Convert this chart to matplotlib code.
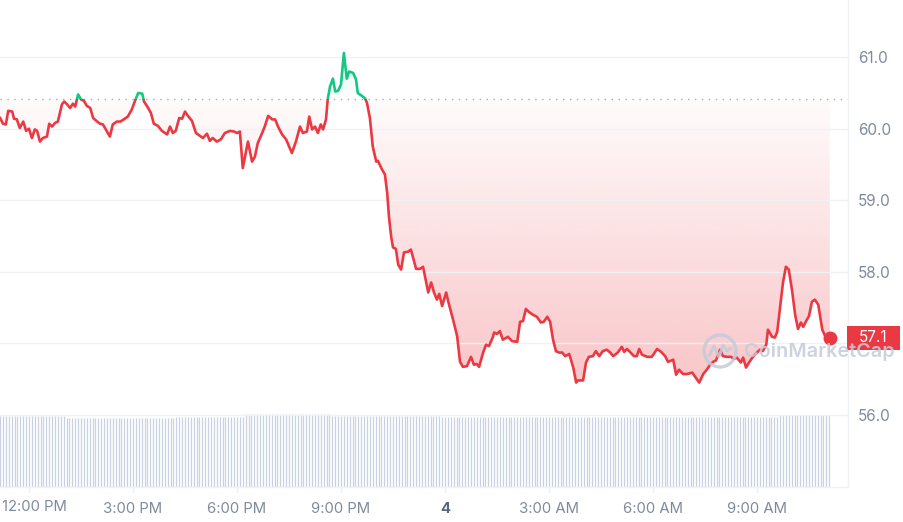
import numpy as np
import matplotlib.pyplot as plt
from matplotlib.colors import to_rgb
from matplotlib.patches import Polygon, Rectangle, Circle

plt.rcParams["font.family"] = ["Inter", "DejaVu Sans"]

RED = "#ea3943"
GREEN = "#16c784"
GRID = "#eff2f5"
LABEL = "#808a9d"
VOL = "#c9d2e3"

# ── Data (minutes after 12:00 PM, price in USD) ──────────────────────────────
minutes = [
    -50, -45, -40, -36, -29, -26, -21, -16, -10, -5, 0, 5, 10, 14, 19, 24, 31, 35,
    40, 45, 50, 57, 61, 66, 71, 76, 80, 85, 90, 95, 100, 106, 111, 118, 123, 128,
    135, 140, 145, 152, 158, 164, 171, 178, 183, 189,
    196, 199, 204, 211, 216, 223, 230, 239, 244, 249, 254, 260, 265, 270, 275, 282,
    289, 296, 301, 308, 313, 318, 325, 332, 339, 348, 355, 360, 365, 370, 379, 386,
    391, 396, 403, 408,
    414, 421, 426, 431, 438, 445, 455, 462, 469, 474, 481, 485, 490, 495, 500, 505,
    509, 514, 517, 521, 526, 530, 535, 540, 545, 550, 554, 561, 566, 569, 576, 582,
    585, 590, 595, 601, 604, 611, 616,
    620, 623, 627, 630, 635, 639, 644, 649, 656, 661, 670, 677, 682, 691, 696, 701,
    706, 710, 715, 722, 727, 734, 741, 746, 751, 758, 765, 770, 775, 779, 786, 791,
    796, 803,
    805, 810, 815, 820, 829, 836, 845, 850, 855, 860, 865, 872, 879, 886, 891, 897,
    902, 907, 912, 917, 923, 928, 935, 942, 947, 950, 959, 964, 969, 976, 981, 987,
    993, 1000, 1006, 1011, 1019, 1026, 1030, 1035, 1040, 1047, 1052, 1056, 1061,
    1070, 1078, 1087, 1094, 1101, 1106,
    1115, 1120, 1125, 1132, 1139, 1148, 1153, 1160, 1167, 1173, 1179, 1184, 1189,
    1193, 1196, 1201, 1208, 1215, 1220, 1225, 1232, 1236, 1241, 1246, 1253, 1260,
    1265, 1270, 1276, 1279, 1286, 1291, 1295, 1302, 1305, 1310, 1315, 1321, 1326,
    1331, 1336, 1340, 1345, 1350, 1355, 1360, 1366, 1373, 1378, 1386,
]
price = [
    60.15, 60.07, 60.06, 60.25, 60.24, 60.14, 60.13, 60.01, 60.10, 59.97, 60.00,
    59.87, 59.99, 59.97, 59.82, 59.87, 59.89, 60.07, 60.03, 60.08, 60.10, 60.34,
    60.38, 60.34, 60.29, 60.35, 60.31, 60.48, 60.41, 60.39, 60.32, 60.29, 60.15,
    60.10, 60.07, 60.06, 59.96, 59.89, 60.06, 60.10, 60.10, 60.13, 60.17, 60.27,
    60.38, 60.50,
    60.49, 60.38, 60.32, 60.22, 60.07, 60.04, 59.97, 59.92, 60.03, 59.94, 59.97,
    60.15, 60.14, 60.24, 60.18, 60.11, 59.94, 59.90, 59.87, 59.93, 59.83, 59.87,
    59.82, 59.85, 59.94, 59.97, 59.96, 59.94, 59.96, 59.45, 59.82, 59.54, 59.61,
    59.80, 59.93, 60.03,
    60.18, 60.13, 60.13, 60.03, 59.92, 59.85, 59.66, 59.82, 60.03, 59.94, 59.96,
    60.17, 59.99, 60.03, 59.94, 60.06, 59.99, 60.13, 60.41, 60.59, 60.70, 60.52,
    60.53, 60.62, 61.06, 60.70, 60.80, 60.78, 60.69, 60.50, 60.46, 60.42, 60.36,
    60.15, 59.75, 59.54, 59.55, 59.43, 59.36,
    59.10, 58.77, 58.48, 58.34, 58.32, 58.10, 58.03, 58.27, 58.28, 58.31, 58.04,
    58.04, 58.07, 57.71, 57.85, 57.71, 57.61, 57.69, 57.52, 57.71, 57.54, 57.33,
    57.10, 56.74, 56.67, 56.68, 56.81, 56.70, 56.71, 56.67, 56.87, 56.98, 56.96,
    57.09,
    57.15, 57.13, 57.17, 57.05, 57.09, 57.03, 57.02, 57.30, 57.31, 57.48, 57.44,
    57.40, 57.37, 57.29, 57.30, 57.37, 57.30, 57.05, 56.89, 56.87, 56.87, 56.82,
    56.85, 56.66, 56.45, 56.48, 56.48, 56.73, 56.81, 56.82, 56.89, 56.82, 56.89,
    56.91, 56.87, 56.82, 56.87, 56.95, 56.88, 56.92, 56.88, 56.82, 56.82, 56.92,
    56.84, 56.81, 56.81, 56.92, 56.88, 56.82, 56.74,
    56.77, 56.56, 56.63, 56.57, 56.57, 56.59, 56.53, 56.45, 56.57, 56.63, 56.70,
    56.74, 56.76, 56.84, 56.91, 56.82, 56.81, 56.81, 56.78, 56.80, 56.73, 56.80,
    56.66, 56.73, 56.81, 56.87, 56.91, 56.89, 56.98, 57.19, 57.09, 57.08, 57.16,
    57.64, 57.85, 58.07, 58.03, 57.72, 57.40, 57.20, 57.29, 57.23, 57.31, 57.38,
    57.58, 57.61, 57.54, 57.19, 57.10, 57.08,
]
open_price = 60.41
last_label = "57.1"

# rolling volume, roughly flat: level per block of time (arbitrary units);
# one bar every 5 minutes takes the level of the block it falls in
vol_step_min = 5
vol_block_start = [-50, 62, 253, 374, 521, 711, 919, 1300]
vol_block_level = [35.0, 34.0, 34.5, 36.0, 35.0, 34.5, 34.5, 35.5]

xticks = [0, 180, 360, 540, 720, 900, 1080, 1260]
xtick_labels = ["12:00 PM", "3:00 PM", "6:00 PM", "9:00 PM", "4",
                "3:00 AM", "6:00 AM", "9:00 AM"]
yticks = [56.0, 57.0, 58.0, 59.0, 60.0, 61.0]

XLIM = (-50.2, 1417.5)
YLIM = (54.99, 61.80)

# ── Figure ───────────────────────────────────────────────────────────────────
fig = plt.figure(figsize=(9.04, 5.22), dpi=100)
rect = [0, 35 / 522, 848 / 904, 487 / 522]
vax = fig.add_axes(rect)
ax = fig.add_axes(rect, sharex=vax)
ax.set_zorder(1)
ax.patch.set_visible(False)

m = np.array(minutes, dtype=float)
p = np.array(price)

# volume bars
bar_t = np.arange(minutes[0], minutes[-1] + 1, vol_step_min)
idx = np.searchsorted(vol_block_start, bar_t, side="right") - 1
volume = np.array(vol_block_level)[idx]
vax.vlines(bar_t, 0, volume, color=VOL, lw=0.9)
vax.set_ylim(0, max(vol_block_level) / 0.15)
vax.axis("off")

# gradient fills between the price line and the opening price
verts = [(m[0], open_price)] + list(zip(m, p)) + [(m[-1], open_price)]
red_rgba = np.zeros((256, 1, 4))
red_rgba[..., :3] = to_rgb(RED)
red_rgba[..., 3] = np.linspace(0.32, 0.02, 256)[:, None]
im = ax.imshow(red_rgba, extent=[m[0], m[-1], 56.0, open_price],
               origin="lower", aspect="auto", zorder=1)
im.set_clip_path(Polygon(verts, closed=True, transform=ax.transData))

green_rgba = np.zeros((256, 1, 4))
green_rgba[..., :3] = to_rgb(GREEN)
green_rgba[..., 3] = np.linspace(0.0, 0.14, 256)[:, None]
im = ax.imshow(green_rgba, extent=[m[0], m[-1], open_price, p.max()],
               origin="lower", aspect="auto", zorder=1)
im.set_clip_path(Polygon(verts, closed=True, transform=ax.transData))

# price line, green above the open, red below
for color, y0, y1 in [(RED, YLIM[0], open_price), (GREEN, open_price, YLIM[1])]:
    line, = ax.plot(m, p, color=color, lw=1.9, zorder=3, solid_joinstyle="round")
    line.set_clip_path(Rectangle((XLIM[0], y0), XLIM[1] - XLIM[0], y1 - y0,
                                 transform=ax.transData))

ax.axhline(open_price, color="#a7adb8", lw=1.0, ls=(0, (1, 4)), zorder=2)
ax.plot(m[-1], p[-1], "o", ms=9, color=RED, zorder=4, clip_on=False)

ax.set_xlim(*XLIM)
ax.set_ylim(*YLIM)

ax.set_yticks(yticks)
ax.set_yticklabels([f"{v:.1f}" for v in yticks])
ax.yaxis.tick_right()
ax.tick_params(axis="y", length=0, pad=7, labelsize=11, labelcolor=LABEL)
ax.grid(axis="y", color=GRID, lw=1.0, zorder=0)

# first label is nudged right so it stays inside the picture
ax.set_xticks(xticks)
ax.set_xticklabels([""] + xtick_labels[1:])
ax.tick_params(axis="x", length=4, width=1, color=GRID, pad=7,
               labelsize=10.7, labelcolor=LABEL)
lbl = ax.get_xticklabels()[4]
lbl.set_fontweight("bold")
lbl.set_color("#58667e")
ax.annotate(xtick_labels[0], xy=(xticks[0], 0), xycoords=("data", "axes fraction"),
            xytext=(5, -20), textcoords="offset pixels", ha="center", va="center",
            fontsize=10.7, color=LABEL, annotation_clip=False)

for side in ["top", "left"]:
    ax.spines[side].set_visible(False)
for side in ["right", "bottom"]:
    ax.spines[side].set_color(GRID)
    ax.spines[side].set_linewidth(1.0)

# overlay in pixel coordinates: price tag and watermark
wax = fig.add_axes([0, 0, 1, 1])
wax.set_xlim(0, 904)
wax.set_ylim(0, 522)
wax.axis("off")
wax.set_zorder(2)

_, ty = ax.transData.transform((m[-1], p[-1]))
wax.add_patch(Rectangle((847, ty - 12), 53, 24, color=RED, lw=0))
wax.text(873.5, ty, last_label, color="white", fontsize=11,
         ha="center", va="center")

WM = "#c3ccda"
wax.add_patch(Circle((720, 522 - 351), 16, fill=False, ec=WM, lw=2.4, alpha=0.85))
wax.plot([709, 714, 719, 723, 727, 731],
         [522 - 356, 522 - 346, 522 - 357, 522 - 345, 522 - 351, 522 - 348],
         color=WM, lw=2.2, alpha=0.85, solid_capstyle="round")
wax.text(744, 522 - 352, "CoinMarketCap", color=WM, fontsize=14.3,
         fontweight="semibold", ha="left", va="center", alpha=0.85)

fig.savefig("out.png", dpi=100)
